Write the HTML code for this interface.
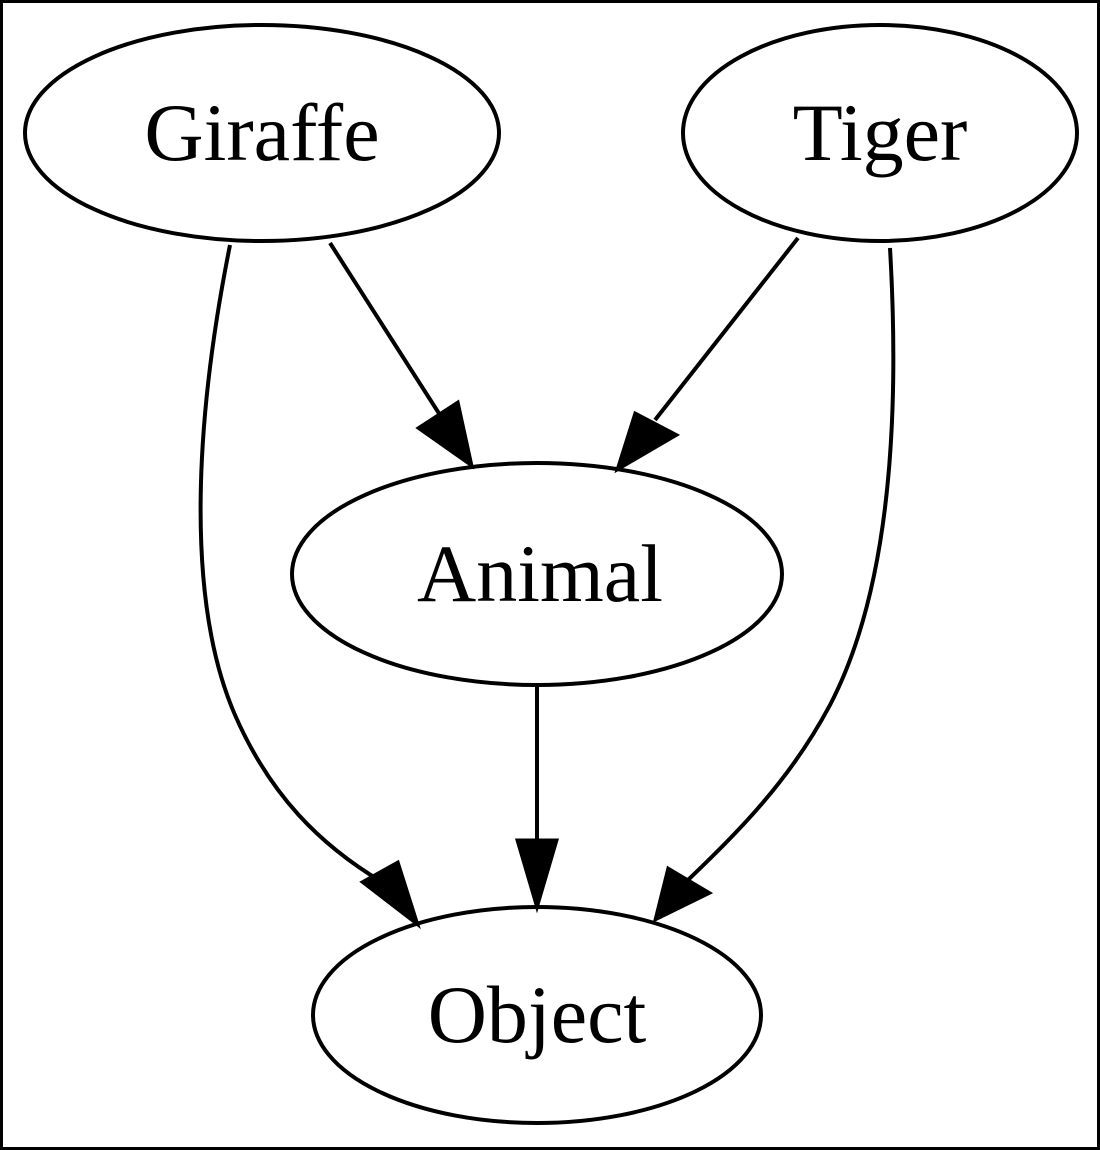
<!DOCTYPE html>
<html><head><style>
html,body{margin:0;padding:0;background:#fff;}
svg{display:block;}
text{font-family:"Liberation Serif",serif;font-size:82px;fill:#000;}
</style></head><body>
<svg width="1100" height="1150" viewBox="0 0 1100 1150" xmlns="http://www.w3.org/2000/svg">
<rect x="1.5" y="1.5" width="1097" height="1147" fill="#fff" stroke="#000" stroke-width="3"/>
<g fill="none" stroke="#000" stroke-width="4">
<ellipse cx="262" cy="133" rx="237" ry="108"/>
<ellipse cx="880" cy="133" rx="197" ry="108"/>
<ellipse cx="537" cy="574" rx="245" ry="111"/>
<ellipse cx="537" cy="1015" rx="224" ry="108"/>
<path d="M330,243 L440,415"/>
<path d="M798,238 L655,420"/>
<path d="M537,686 L537,842"/>
<path d="M230,245 C195,420 185,600 235,715 C270,795 320,845 382,882"/>
<path d="M890,248 C900,420 890,590 830,705 C790,780 740,830 688,880"/>
</g>
<g fill="#000" stroke="#000" stroke-width="3">
<polygon points="418,428 458,402 472,466"/>
<polygon points="635,413 677,435 617,470"/>
<polygon points="517,840 557,840 537,908"/>
<polygon points="362,882 398,862 418,925"/>
<polygon points="668,868 710,893 655,920"/>
</g>
<text x="262" y="160" text-anchor="middle">Giraffe</text>
<text x="880" y="160" text-anchor="middle">Tiger</text>
<text x="540" y="601" text-anchor="middle">Animal</text>
<text x="537" y="1042" text-anchor="middle">Object</text>
</svg>
</body></html>
